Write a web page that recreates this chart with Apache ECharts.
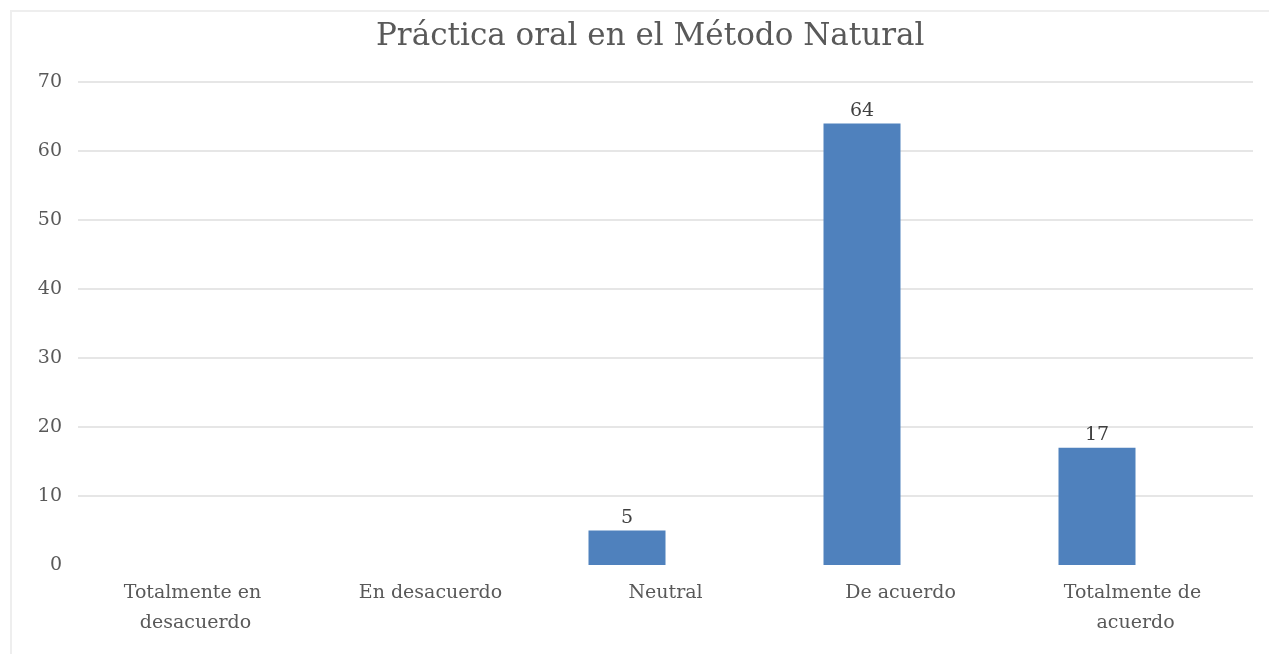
<!DOCTYPE html>
<html>
<head>
<meta charset="utf-8">
<script src="https://cdn.jsdelivr.net/npm/echarts@6/dist/echarts.min.js"></script>
<style>
html,body{margin:0;padding:0;background:#fff;}
#frame{position:absolute;left:10px;top:10px;width:1270px;height:650px;border:2px solid #eeeeee;box-sizing:border-box;}
#chart{position:absolute;left:0;top:0;width:1269px;height:654px;}
</style>
</head>
<body>
<div id="frame"></div>
<div id="chart"></div>
<script>
const titleText = 'Práctica oral en el Método Natural';
const categories = ['Totalmente en desacuerdo', 'En desacuerdo', 'Neutral', 'De acuerdo', 'Totalmente de acuerdo'];
const values = [null, null, 5, 64, 17];
const emptySeries = [null, null, null, null, null];
const yTicks = { min: 0, max: 70, interval: 10 };

const font = '"DejaVu Serif", serif';
const chart = echarts.init(document.getElementById('chart'));
chart.setOption({
  animation: false,
  title: {
    text: titleText, left: 371, top: 16,
    textStyle: { fontFamily: font, fontSize: 31, fontWeight: 'normal', color: '#595959' }
  },
  grid: { left: 78, right: 16, top: 82, bottom: 89 },
  xAxis: {
    type: 'category', data: categories,
    axisLine: { show: true, lineStyle: { color: '#ffffff', width: 3 } },
    axisTick: { show: false },
    axisLabel: {
      fontFamily: font, fontSize: 19, color: '#595959', margin: 13,
      width: 175, overflow: 'break', lineHeight: 30, interval: 0
    }
  },
  yAxis: {
    type: 'value', min: yTicks.min, max: yTicks.max, interval: yTicks.interval,
    axisLine: { show: false }, axisTick: { show: false },
    axisLabel: { fontFamily: font, fontSize: 19, color: '#595959', margin: 16 },
    splitLine: { lineStyle: { color: '#e6e6e6', width: 2 } }
  },
  series: [
    {
      type: 'bar', data: values, barWidth: 77, barGap: '0%',
      itemStyle: { color: '#4f81bd' },
      label: { show: true, position: 'top', distance: 3, fontFamily: font, fontSize: 19, color: '#404040' }
    },
    {
      type: 'bar', data: emptySeries, barWidth: 77, barGap: '0%',
      itemStyle: { color: '#c0504d' }
    }
  ]
});
</script>
</body>
</html>
